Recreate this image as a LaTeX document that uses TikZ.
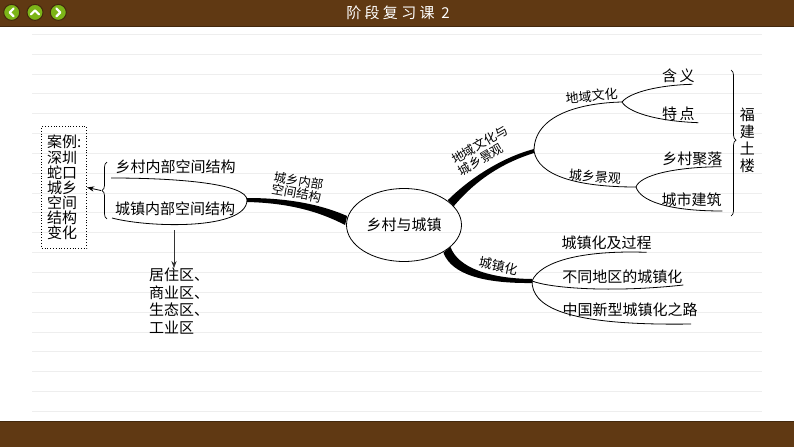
\documentclass[tikz,border=0pt]{standalone}
\usepackage{fontspec}
\setmainfont{Noto Sans CJK SC}
\newfontfamily\titlefont[LetterSpace=22]{Noto Sans CJK SC}
\usetikzlibrary{decorations.pathreplacing,shapes.geometric,arrows.meta}
\definecolor{barbrown}{HTML}{603913}
\definecolor{ruleline}{HTML}{EEEEEE}
\definecolor{navgreen}{HTML}{7CB518}
\tikzset{
    bigtext/.style={font=\fontsize{15}{15.1}\selectfont,inner sep=0pt},
    smalltext/.style={font=\fontsize{13}{13}\selectfont,inner sep=0pt},
    branch/.style={line width=0.8pt,black},
    navbtn/.style={circle,draw=barbrown!70!black,line width=1pt,fill=navgreen,minimum size=16pt,inner sep=0pt},
    navmark/.style={white,line width=2.2pt,line cap=round,line join=round},
    fold/.style={decorate,decoration={brace,amplitude=5pt},line width=0.7pt},
}
\begin{document}
\begin{tikzpicture}[x=1pt,y=-1pt]
            \useasboundingbox (0,0) rectangle (794,447);
            \fill[white] (0,0) rectangle (794,447);
            \foreach \i in {0,...,19}{
                \draw[ruleline,line width=0.8pt] (32,34.3+19.84*\i)--(762,34.3+19.84*\i);
            }
            \fill[barbrown] (0,0) rectangle (794,26);
            \fill[barbrown] (0,421) rectangle (794,447);
            \draw[barbrown!70!black,line width=0.8pt] (0,26)--(794,26);
            \draw[barbrown!70!black,line width=0.8pt] (0,421)--(794,421);
            \node[navbtn] (navback) at (11.7,12.4) {};
            \node[navbtn] (navup) at (35,12.4) {};
            \node[navbtn] (navnext) at (58.3,12.4) {};
            \draw[navmark] (13.7,8.4)--(9.7,12.4)--(13.7,16.4);
            \draw[navmark] (31,14.4)--(35,10.4)--(39,14.4);
            \draw[navmark] (56.3,8.4)--(60.3,12.4)--(56.3,16.4);
            \node[white,inner sep=0pt,font=\titlefont\fontsize{15}{16}\selectfont] (title) at (398,13) {阶段复习课 2};

            \node[ellipse,draw,line width=0.8pt,minimum width=115pt,minimum height=73pt,inner sep=0pt,font=\fontsize{15}{16}\selectfont] (centre) at (404,225) {乡村与城镇};

            \coordinate (space) at (247,200);
            \coordinate (culture) at (534,151);
            \coordinate (urban) at (532,281);
            \coordinate (region) at (622,102);
            \coordinate (scape) at (636,187);

            \fill ([yshift=2]space) .. controls (290,198) and (322,205) .. ([xshift=1,yshift=9]centre.west)
                -- ([xshift=-1,yshift=0]centre.west) .. controls (320,212) and (290,203) .. ([yshift=-2]space) -- cycle;
            \fill ([xshift=-3,yshift=3]centre.25) .. controls (468,180) and (500,158) .. ([yshift=2]culture)
                -- ([yshift=-2]culture) .. controls (502,163) and (476,180) .. ([xshift=3,yshift=-3]centre.25) -- cycle;
            \fill ([xshift=3.5,yshift=3]centre.-30) .. controls (458,268) and (490,278.5) .. ([yshift=2]urban)
                -- ([yshift=-2]urban) .. controls (485,283.5) and (452,275) .. ([xshift=-3.5,yshift=-3]centre.-30) -- cycle;

            \node[bigtext] (ruralin) at (175.7,166.7) {乡村内部空间结构};
            \node[bigtext] (townin) at (175,208.3) {城镇内部空间结构};
            \coordinate (ruralend) at (111,178);
            \coordinate (townend) at (112,218);
            \draw[branch] (space) .. controls (247,184) and (180,178) .. (ruralend);
            \draw[branch] (space) .. controls (247,230) and (150,228) .. (townend);
            \draw[fold] (107,219)--(107,162) coordinate[midway,xshift=-6] (foldtip);
            \node[bigtext,draw,dotted,line width=0.8pt,minimum width=45pt,minimum height=121.5pt,align=left] (casebox) at (64.2,187.5) {案例:\\深圳\\蛇口\\城乡\\空间\\结构\\变化};
            \draw[-{Stealth[length=7pt]},line width=0.8pt] (foldtip)--(casebox.east);

            \coordinate (townfoot) at (174,230);
            \node[bigtext,font=\fontsize{15}{17.4}\selectfont,align=left,anchor=north west] (zones) at (149,268) {居住区、\\商业区、\\生态区、\\工业区};
            \draw[-{Stealth[length=7pt]},line width=0.7pt,black!80] (townfoot)--(townfoot|-zones.north);

            \node[smalltext,rotate=-10,align=center,font=\fontsize{12.5}{12.6}\selectfont] (spacelabel) at (297.5,187) {城乡内部\\空间结构};
            \node[smalltext,rotate=30,font=\fontsize{12.5}{13}\selectfont] (culturelabel) at (479.7,144.5) {地域文化与};
            \node[smalltext,rotate=30,font=\fontsize{12.5}{13}\selectfont] (scapeline) at (480.7,159.5) {城乡景观};
            \node[smalltext,rotate=-12] (urbanlabel) at (498.3,266) {城镇化};

            \draw[branch] (culture) .. controls (534,115) and (580,103) .. (region);
            \draw[branch] (culture) .. controls (538,175) and (575,187) .. (scape);
            \node[smalltext,rotate=5] (regionlabel) at (591.7,96) {地域文化};
            \node[smalltext,rotate=-5] (scapelabel) at (595,176.7) {城乡景观};

            \coordinate (meanend) at (692.3,84.3);
            \coordinate (pointend) at (698.3,122.7);
            \coordinate (villageend) at (721.7,166.7);
            \coordinate (cityend) at (722.3,211);
            \draw[branch] (region) .. controls (630,92) and (660,85) .. (meanend);
            \draw[branch] (region) .. controls (628,112) and (655,121) .. (pointend);
            \draw[branch] (scape) .. controls (640,175) and (675,167) .. (villageend);
            \draw[branch] (scape) .. controls (640,200) and (665,211) .. (cityend);
            \node[bigtext] (mean) at (678.3,75.7) {含\,义};
            \node[bigtext] (point) at (678.3,113.3) {特\,点};
            \node[bigtext] (village) at (692.3,159) {乡村聚落};
            \node[bigtext] (city) at (691.7,199.3) {城市建筑};
            \draw[fold,decoration={aspect=0.48}] (731,70)--(731,216);
            \node[bigtext,font=\fontsize{15}{17}\selectfont,align=center] (tulou) at (747.3,140.5) {福\\建\\土\\楼};

            \coordinate (processend) at (646.7,252.3);
            \coordinate (regionsend) at (683.3,285);
            \coordinate (pathend) at (691,324);
            \draw[branch] (urban) .. controls (540,262) and (580,250) .. (processend);
            \draw[branch] (urban) .. controls (550,288) and (610,293) .. (regionsend);
            \draw[branch] (urban) .. controls (532,305) and (560,326) .. (pathend);
            \node[bigtext] (process) at (606.7,242.7) {城镇化及过程};
            \node[bigtext] (regions) at (622.3,276.7) {不同地区的城镇化};
            \node[bigtext] (path) at (630,310) {中国新型城镇化之路};
\end{tikzpicture}
\end{document}
